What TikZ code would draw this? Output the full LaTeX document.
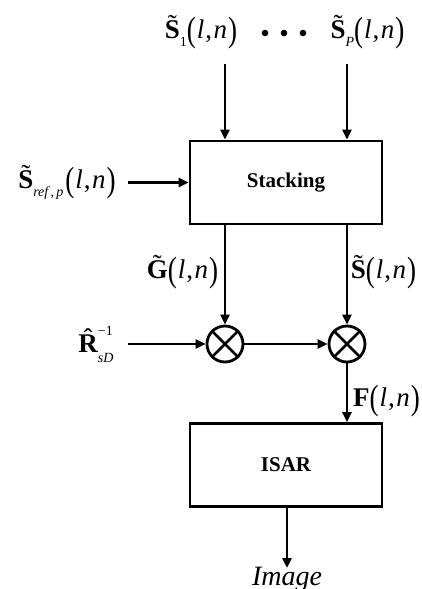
\documentclass[tikz,border=0pt]{standalone}
\usepackage{fontspec}
\setmainfont{Liberation Serif}
\usetikzlibrary{arrows.meta}

% tall parentheses around the (l,n) argument
\newcommand\lpar{\raisebox{-0.12em}{\scalebox{1}[1.3]{(}}}
\newcommand\rpar{\raisebox{-0.12em}{\scalebox{1}[1.3]{)}}}
\newcommand\argln{\lpar\kern1pt\textit{l}\kern1pt,\kern1.5pt\textit{n}\kern1pt\rpar}
% accent centred over a bold capital
\newcommand\acc[2]{\setbox0=\hbox{\bfseries #2}%
  \rlap{\hbox to\wd0{\hss\raisebox{0.17em}{#1}\hss}}\box0}
\newcommand\tbf[1]{\acc{˜}{#1}}
\newcommand\smallidx{\fontsize{14}{14}\selectfont}
\newcommand\subx[1]{\raisebox{-0.3em}{\smallidx #1}}

\tikzset{
  blockbox/.style={draw, minimum width=192pt, minimum height=83pt, inner sep=0pt,
    font=\fontsize{21}{24}\selectfont\bfseries},
  mixer/.style={draw, circle, minimum size=36pt, inner sep=0pt},
  lab/.style={font=\fontsize{27}{30}\selectfont, inner sep=0pt},
}

\begin{document}
\begin{tikzpicture}[x=1pt, y=-1pt, line width=2.8pt,
  >={Triangle[length=10pt,width=9pt]}]
\useasboundingbox (0,0) rectangle (421,589);

% blocks and mixers
\node[blockbox] (stack) at (286,182.5) {Stacking};
\node[blockbox] (isar) at (286,465) {ISAR};
\node[mixer] (m1) at (225,344) {};
\node[mixer] (m2) at (347,344) {};
\draw (m1.north west) -- (m1.south east) (m1.north east) -- (m1.south west);
\draw (m2.north west) -- (m2.south east) (m2.north east) -- (m2.south west);

% input signals
\node[lab, anchor=base] (s1) at (201,38) {\tbf{S}\subx{1}\argln};
\node[lab, anchor=base] (sp) at (367.5,38) {\tbf{S}\subx{\itshape P}\argln};
\fill (265,33) circle (3.3pt) (284,33) circle (3.3pt) (303,33) circle (3.3pt);
\node[lab, anchor=base] (sref) at (67,188) {\tbf{S}\subx{\itshape ref\,,\,p}\kern2pt\argln};
\node[lab, anchor=base] (g) at (182.5,278) {\tbf{G}\argln};
\node[lab, anchor=base] (s) at (383.5,278) {\tbf{S}\argln};
\node[lab, anchor=base] (r) at (96,352) {\acc{ˆ}{R}\rlap{\raisebox{0.6em}{\smallidx −1}}\raisebox{-0.4em}{\smallidx\itshape sD}};
\node[lab, anchor=base] (f) at (386.5,406) {\textbf{F}\argln};
\node[font=\fontsize{28}{30}\selectfont\itshape, anchor=base, inner sep=0pt] (img) at (287,585) {Image};

% free ends of the connectors
\coordinate (t1) at (225,64);
\coordinate (t2) at (347,64);
\coordinate (rin) at (128,182.5);
\coordinate (rr) at (128,344);
\coordinate (tip) at (287,568);

% connectors
\draw[->] (t1) -- (stack.north -| t1);
\draw[->] (t2) -- (stack.north -| t2);
\draw[->] (rin) -- (stack.west);
\draw[->] (stack.south -| m1) -- (m1);
\draw[->] (stack.south -| m2) -- (m2);
\draw[->] (rr) -- (m1);
\draw[->] (m1) -- (m2);
\draw[->] (m2) -- (isar.north -| m2);
\draw[->] (isar.south -| tip) -- (tip);
\end{tikzpicture}
\end{document}
